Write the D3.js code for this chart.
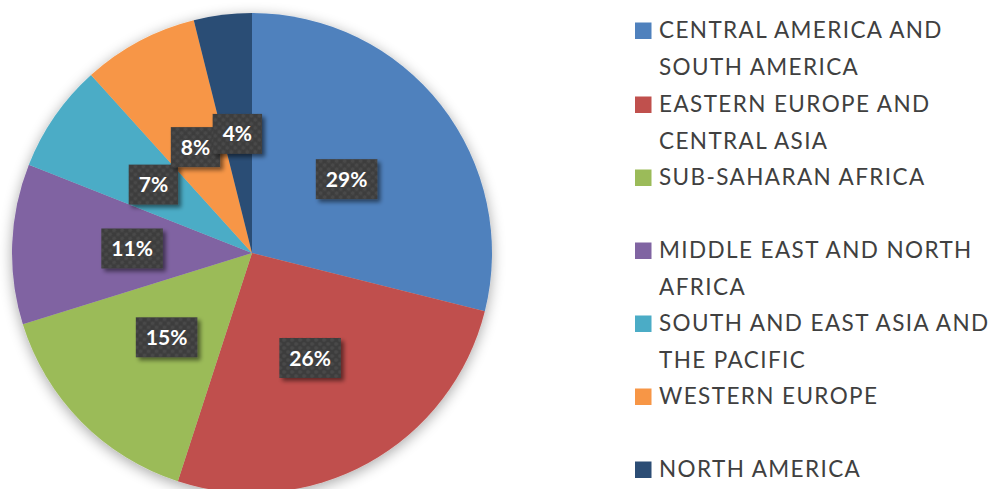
<!DOCTYPE html>
<html><head><meta charset="utf-8">
<script src="https://cdn.jsdelivr.net/npm/d3@7"></script>
<style>html,body{margin:0;padding:0;background:#fff;}svg{display:block;}</style>
</head><body>
<svg id="chart" width="994" height="489"></svg>
<script>
const categories = ["CENTRAL AMERICA AND SOUTH AMERICA","EASTERN EUROPE AND CENTRAL ASIA","SUB-SAHARAN AFRICA","MIDDLE EAST AND NORTH AFRICA","SOUTH AND EAST ASIA AND THE PACIFIC","WESTERN EUROPE","NORTH AMERICA"];
const legendLines = [["CENTRAL AMERICA AND","SOUTH AMERICA"],["EASTERN EUROPE AND","CENTRAL ASIA"],["SUB-SAHARAN AFRICA"],["MIDDLE EAST AND NORTH","AFRICA"],["SOUTH AND EAST ASIA AND","THE PACIFIC"],["WESTERN EUROPE"],["NORTH AMERICA"]];
const values = [28.9, 26.1, 15.2, 10.8, 7.3, 7.8, 3.9];
const labels = ["29%","26%","15%","11%","7%","8%","4%"];
const colors = ["#4F81BD","#C0504D","#9BBB59","#8064A2","#4BACC6","#F79646","#2C4D75"];

const svg = d3.select("#chart");
const defs = svg.append("defs");
const f = defs.append("filter").attr("id","pieShadow").attr("x","-20%").attr("y","-20%").attr("width","140%").attr("height","140%");
f.append("feGaussianBlur").attr("in","SourceAlpha").attr("stdDeviation",7).attr("result","b");
f.append("feOffset").attr("in","b").attr("dx",0).attr("dy",3).attr("result","o");
f.append("feComponentTransfer").attr("in","o").attr("result","o2").append("feFuncA").attr("type","linear").attr("slope",0.35);
const m = f.append("feMerge"); m.append("feMergeNode").attr("in","o2"); m.append("feMergeNode").attr("in","SourceGraphic");

const f2 = defs.append("filter").attr("id","boxShadow").attr("x","-30%").attr("y","-30%").attr("width","160%").attr("height","160%");
f2.append("feGaussianBlur").attr("in","SourceAlpha").attr("stdDeviation",2).attr("result","b");
f2.append("feOffset").attr("in","b").attr("dx",3).attr("dy",3).attr("result","o");
f2.append("feComponentTransfer").attr("in","o").attr("result","o2").append("feFuncA").attr("type","linear").attr("slope",0.5);
const m2 = f2.append("feMerge"); m2.append("feMergeNode").attr("in","o2"); m2.append("feMergeNode").attr("in","SourceGraphic");

const pat = defs.append("pattern").attr("id","dots").attr("patternUnits","userSpaceOnUse").attr("width",8).attr("height",8);
pat.append("rect").attr("width",8).attr("height",8).attr("fill","#3e3e3e");
pat.append("circle").attr("cx",2).attr("cy",2).attr("r",1.8).attr("fill","#4a4a4a");
pat.append("circle").attr("cx",6).attr("cy",6).attr("r",1.8).attr("fill","#4a4a4a");

const cx = 252, cy = 253, R = 240;
const pie = d3.pie().sort(null).value(d => d)(values);
const arc = d3.arc().innerRadius(0).outerRadius(R);
const labelArc = d3.arc().innerRadius(120).outerRadius(120);

const g = svg.append("g").attr("transform",`translate(${cx},${cy})`);
g.append("g").attr("filter","url(#pieShadow)")
  .selectAll("path").data(pie).join("path")
  .attr("d", arc).attr("fill",(d,i)=>colors[i]);

const lg = g.append("g");
pie.forEach((d,i)=>{
  const [x,y] = labelArc.centroid(d);
  const grp = lg.append("g").attr("transform",`translate(${x},${y})`);
  const t = grp.append("text").attr("text-anchor","middle").attr("dy","0.36em")
    .attr("font-family","Lato, 'Open Sans', sans-serif").attr("font-weight","bold")
    .attr("font-size",21).attr("fill","#fff").text(labels[i]);
  const w = t.node().getComputedTextLength() + 20, h = 40;
  grp.insert("rect","text").attr("x",-w/2).attr("y",-h/2).attr("width",w).attr("height",h)
    .attr("fill","url(#dots)").attr("filter","url(#boxShadow)");
});

const leg = svg.append("g");
const baselines = [38,112,185,258,331,404,477];
legendLines.forEach((lines,i)=>{
  leg.append("rect").attr("x",635).attr("y",baselines[i]-15.5).attr("width",16.5).attr("height",16.5).attr("fill",colors[i]);
  lines.forEach((ln,j)=>{
    leg.append("text").attr("x",659).attr("y",baselines[i]+j*36.7)
      .attr("font-family","Lato, 'Open Sans', sans-serif").attr("font-size",22.5)
      .attr("letter-spacing",1.4)
      .attr("fill","#404040").text(ln);
  });
});
</script>
</body></html>
